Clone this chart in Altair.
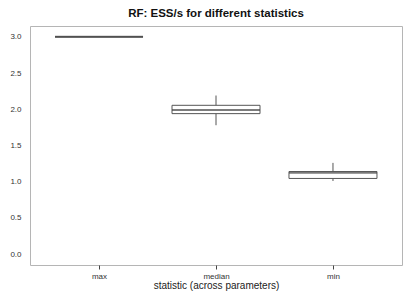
import altair as alt
import pandas as pd

stats = ["max", "median", "min"]
lower = [3.0, 1.78, 1.01]
q1 = [3.0, 1.94, 1.045]
median = [3.0, 1.99, 1.125]
q3 = [3.0, 2.055, 1.14]
upper = [3.0, 2.19, 1.26]

df = pd.DataFrame({"stat": stats, "lower": lower, "q1": q1, "median": median,
                   "q3": q3, "upper": upper})

FONT = "Liberation Sans"

x_enc = alt.X("stat:N", sort=stats, title="statistic (across parameters)",
              scale=alt.Scale(type="point", padding=0.59),
              axis=alt.Axis(labelAngle=0, labelFontSize=8, titleFontSize=10,
                            labelColor="#333", titleColor="#222", tickColor="#444",
                            tickSize=4, domain=False, grid=False, labelPadding=3,
                            titlePadding=0, labelFont=FONT, titleFont=FONT,
                            titleFontWeight="normal"))

y_scale = alt.Scale(domain=[-0.15, 3.15], nice=False, zero=False)
y_axis = alt.Axis(values=[0, 0.5, 1, 1.5, 2, 2.5, 3], format=".1f", labelFontSize=8,
                  labelColor="#333", ticks=False, domain=False, grid=False,
                  labelPadding=9, labelFont=FONT, title=None)

base = alt.Chart(df)

whisk = base.mark_rule(color="#555", strokeWidth=1).encode(
    x=x_enc,
    y=alt.Y("lower:Q", scale=y_scale, axis=y_axis),
    y2="upper:Q",
)

box = base.mark_bar(size=88, fill="white", stroke="#555", strokeWidth=1).encode(
    x=x_enc,
    y=alt.Y("q1:Q", scale=y_scale, axis=y_axis),
    y2="q3:Q",
)

med = base.mark_tick(size=88, thickness=2, color="#444").encode(
    x=x_enc,
    y=alt.Y("median:Q", scale=y_scale, axis=y_axis),
)

chart = alt.layer(whisk, box, med).properties(
    width=372, height=239,
    autosize=alt.AutoSizeParams(type="none"),
    padding={"left": 22, "top": 18, "right": 5, "bottom": 40},
    title=alt.TitleParams("RF: ESS/s for different statistics", fontSize=11.5,
                          fontWeight="bold", font=FONT, color="#111", offset=7,
                          anchor="middle"),
).configure_view(stroke="#b5b5b5", strokeWidth=1)

chart.save("out.html", embed_options={"renderer": "svg", "actions": False})
